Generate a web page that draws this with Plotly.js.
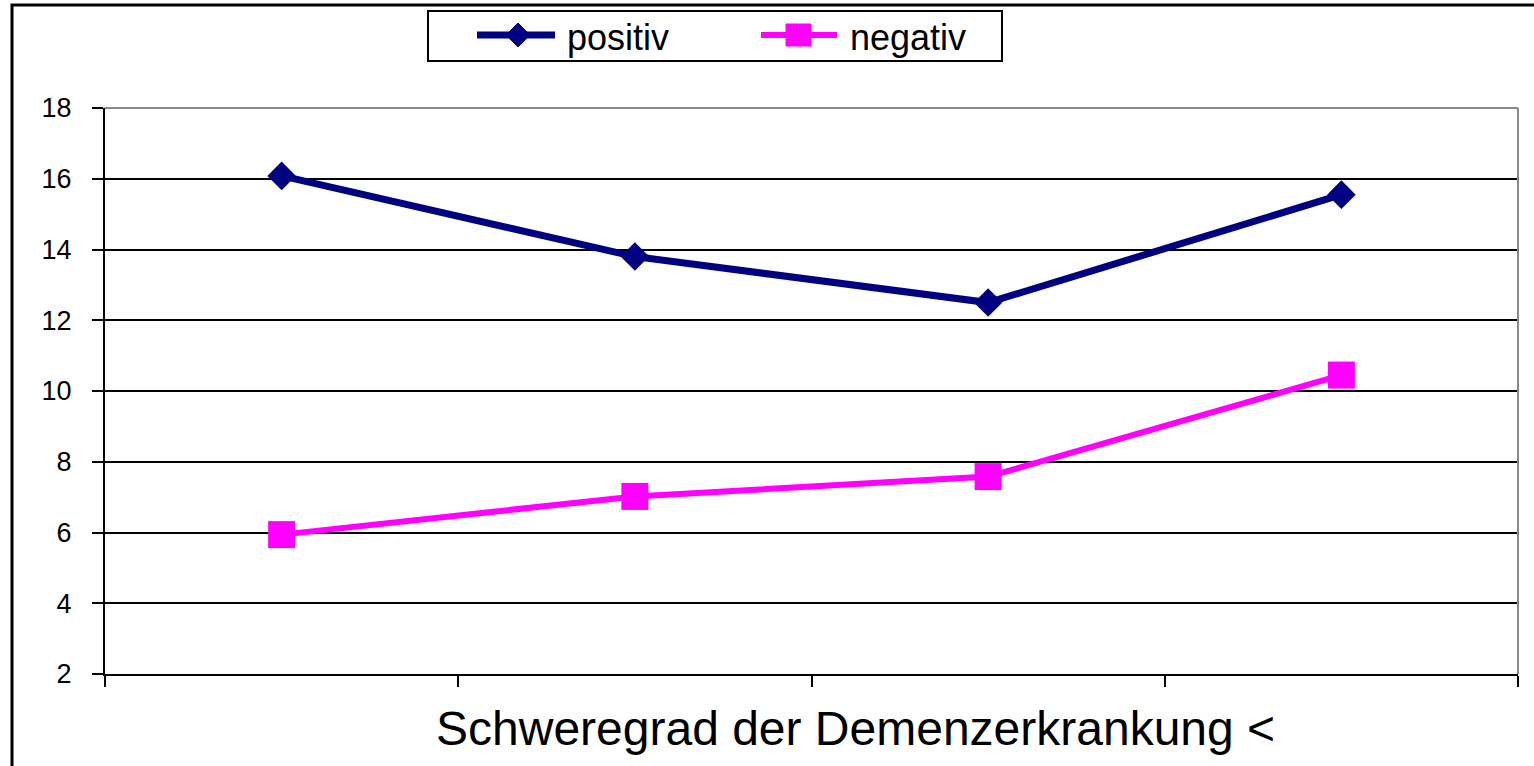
<!DOCTYPE html>
<html>
<head>
<meta charset="utf-8">
<script src="https://cdn.plot.ly/plotly-3.0.1.min.js"></script>
<style>html,body{margin:0;padding:0;background:#fff;}#chart{width:1534px;height:766px;}</style>
</head>
<body>
<div id="chart"></div>
<script>
const categories = ['1', '2', '3', '4'];
const positiv = [16.08, 13.8, 12.5, 15.55];
const negativ = [5.94, 7.02, 7.58, 10.45];
const seriesNames = ['positiv', 'negativ'];
const xTitle = 'Schweregrad der Demenzerkrankung <';
const yTicks = [2, 4, 6, 8, 10, 12, 14, 16, 18];

const FONT = 'Liberation Sans, Arial, sans-serif';
const NAVY = '#000080', MAGENTA = '#FF00FF';

// layout geometry (pixels)
const W = 1534, H = 766, ML = 105, MR = 16, MT = 108, MB = 92;
const PW = W - ML - MR, PH = H - MT - MB;
const px = v => (v - ML) / PW;          // pixel x -> paper x
const py = v => (H - MB - v) / PH;      // pixel y -> paper y

const traces = [
  {
    x: categories, y: positiv, name: seriesNames[0], type: 'scatter', mode: 'lines+markers',
    line: {color: NAVY, width: 7},
    marker: {symbol: 'diamond', size: 22, color: NAVY},
    showlegend: false
  },
  {
    x: categories, y: negativ, name: seriesNames[1], type: 'scatter', mode: 'lines+markers',
    line: {color: MAGENTA, width: 6},
    marker: {symbol: 'square', size: 27, color: MAGENTA},
    showlegend: false
  }
];

// custom legend (box, sample lines, symbols, labels)
const legY = 35;
const diamond = (cx, cy, r) =>
  `M${px(cx - r)},${py(cy)} L${px(cx)},${py(cy - r)} L${px(cx + r)},${py(cy)} L${px(cx)},${py(cy + r)} Z`;

const shapes = [
  // plot area top/right border (grey)
  {type: 'line', xref: 'paper', yref: 'paper', x0: 0, x1: 1, y0: 1, y1: 1, line: {color: '#888', width: 2}},
  {type: 'line', xref: 'paper', yref: 'paper', x0: 1, x1: 1, y0: 0, y1: 1, line: {color: '#888', width: 2}},
  // outer chart frame
  {type: 'rect', xref: 'paper', yref: 'paper', x0: px(12), x1: px(1600), y0: py(830), y1: py(5),
   line: {color: '#000', width: 3}, fillcolor: 'rgba(0,0,0,0)', layer: 'below'},
  // legend box
  {type: 'rect', xref: 'paper', yref: 'paper', x0: px(428), x1: px(1002), y0: py(61), y1: py(11),
   line: {color: '#000', width: 2}, fillcolor: '#fff'},
  // positiv sample
  {type: 'line', xref: 'paper', yref: 'paper', x0: px(477), x1: px(555), y0: py(legY), y1: py(legY),
   line: {color: NAVY, width: 7}},
  {type: 'path', xref: 'paper', yref: 'paper', path: diamond(518, legY, 12),
   fillcolor: NAVY, line: {color: NAVY, width: 1}},
  // negativ sample
  {type: 'line', xref: 'paper', yref: 'paper', x0: px(761), x1: px(837), y0: py(legY), y1: py(legY),
   line: {color: MAGENTA, width: 6}},
  {type: 'rect', xref: 'paper', yref: 'paper', x0: px(786), x1: px(811), y0: py(legY + 11), y1: py(legY - 11),
   fillcolor: MAGENTA, line: {color: MAGENTA, width: 1}}
];

const annotations = [
  {text: xTitle, xref: 'paper', yref: 'paper', x: px(855), y: py(728), xanchor: 'center', yanchor: 'middle',
   showarrow: false, font: {family: FONT, size: 48, color: '#000'}},
  {text: seriesNames[0], xref: 'paper', yref: 'paper', x: px(565), y: py(37), xanchor: 'left', yanchor: 'middle',
   showarrow: false, font: {family: FONT, size: 36, color: '#000'}},
  {text: seriesNames[1], xref: 'paper', yref: 'paper', x: px(848), y: py(37), xanchor: 'left', yanchor: 'middle',
   showarrow: false, font: {family: FONT, size: 36, color: '#000'}}
];

const layout = {
  width: W, height: H,
  margin: {l: ML, r: MR, t: MT, b: MB},
  paper_bgcolor: '#fff', plot_bgcolor: '#fff',
  font: {family: FONT, color: '#000'},
  showlegend: false,
  xaxis: {
    type: 'category', categoryorder: 'array', categoryarray: categories,
    range: [-0.5, 3.5], showticklabels: false, showgrid: false,
    ticks: 'outside', tickson: 'boundaries', ticklen: 11, tickwidth: 2, tickcolor: '#000',
    showline: true, linecolor: '#000', linewidth: 2, zeroline: false, fixedrange: true
  },
  yaxis: {
    range: [2, 18], tickvals: yTicks, ticktext: yTicks.map(String),
    showgrid: true, gridcolor: '#000', gridwidth: 2,
    ticks: 'outside', ticklen: 11, tickwidth: 2, tickcolor: '#000',
    ticklabelstandoff: 15,
    tickfont: {family: FONT, size: 27, color: '#000'},
    showline: true, linecolor: '#000', linewidth: 2, zeroline: false, fixedrange: true
  },
  shapes: shapes,
  annotations: annotations
};

Plotly.newPlot('chart', traces, layout, {displayModeBar: false, staticPlot: true});
</script>
</body>
</html>
